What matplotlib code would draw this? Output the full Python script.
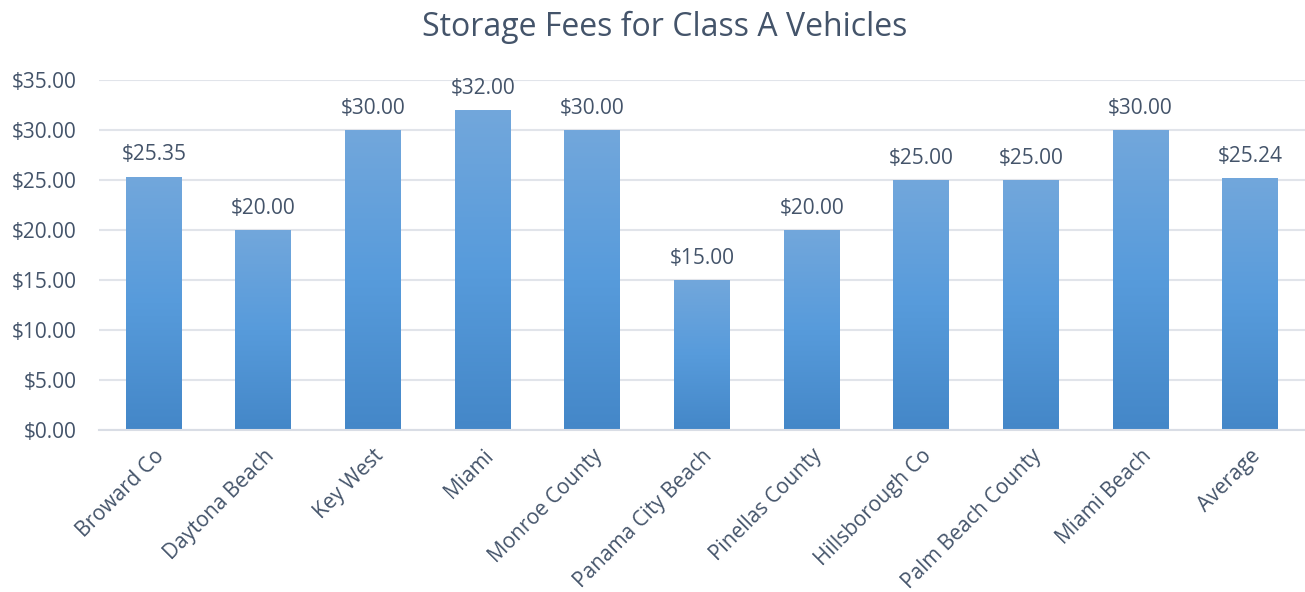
import numpy as np
import matplotlib
matplotlib.use("Agg")
from matplotlib import pyplot as plt
from matplotlib.colors import LinearSegmentedColormap
from matplotlib.patches import Rectangle

categories = ["Broward Co", "Daytona Beach", "Key West", "Miami", "Monroe County",
              "Panama City Beach", "Pinellas County", "Hillsborough Co",
              "Palm Beach County", "Miami Beach", "Average"]
fees = [25.35, 20.00, 30.00, 32.00, 30.00, 15.00, 20.00, 25.00, 25.00, 30.00, 25.24]
yticks = [0, 5, 10, 15, 20, 25, 30, 35]

TEXT = "#44546a"
GRID = "#e1e4ea"
plt.rcParams["font.family"] = ["Open Sans", "DejaVu Sans"]

# bottom -> top: darker to lighter blue, as in the Excel gradient fill
cmap = LinearSegmentedColormap.from_list("bar", ["#4487c8", "#579bdb", "#72a7dc"])
grad = np.linspace(0, 1, 256).reshape(-1, 1)

fig = plt.figure(figsize=(13.05, 5.92), dpi=100)
ax = fig.add_axes([99 / 1305, 1 - 430 / 592, 1206 / 1305, 350 / 592])

x = np.arange(len(categories))
bars = ax.bar(x, fees, width=0.51, color="none", zorder=2)
for b, v in zip(bars, fees):
    x0, w = b.get_x(), b.get_width()
    im = ax.imshow(grad, cmap=cmap, origin="lower", aspect="auto",
                   extent=[x0, x0 + w, 0, v], zorder=2)
    im.set_clip_path(Rectangle((x0, 0), w, v, transform=ax.transData))
    ax.text(b.get_x() + w / 2, v + 1.1, f"${v:,.2f}", ha="center", va="bottom",
            fontsize=15, color=TEXT)

ax.set_xlim(-0.5, len(categories) - 0.5)
ax.set_ylim(0, 35)
ax.set_yticks(yticks)
ax.set_yticklabels([f"${t:.2f}" for t in yticks], fontsize=15, color=TEXT)
ax.set_xticks(x)
ax.set_xticklabels(categories, rotation=45, ha="right", rotation_mode="anchor",
                   fontsize=15, color=TEXT)
ax.tick_params(axis="both", length=0)
ax.tick_params(axis="y", pad=16)
ax.tick_params(axis="x", pad=11)
ax.grid(axis="y", color=GRID, lw=1.5, zorder=0)
ax.set_axisbelow(True)
for s in ["top", "right", "left"]:
    ax.spines[s].set_visible(False)
ax.spines["bottom"].set_color("#d9dde5")
ax.spines["bottom"].set_linewidth(1.5)

fig.text(665 / 1305, 1 - 27 / 592, "Storage Fees for Class A Vehicles", ha="center",
         va="center", fontsize=23, color=TEXT)

fig.savefig("out.png", dpi=100, facecolor="white")
